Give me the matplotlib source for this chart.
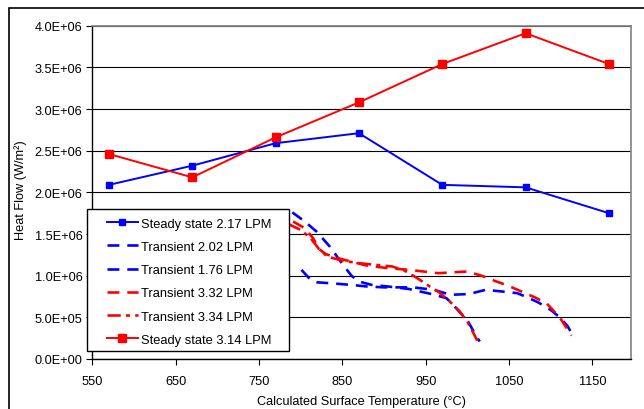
import numpy as np
import matplotlib
matplotlib.use("Agg")
import matplotlib.pyplot as plt
from matplotlib.patches import Rectangle
from matplotlib.ticker import FuncFormatter

plt.rcParams['font.family'] = ['Liberation Sans', 'DejaVu Sans']

# steady state runs (surface temperature, heat flow)
steady_t = [570, 670, 770, 870, 970, 1070, 1170]
steady_217 = [2.09e6, 2.32e6, 2.59e6, 2.71e6, 2.09e6, 2.06e6, 1.75e6]
steady_314 = [2.46e6, 2.18e6, 2.66e6, 3.08e6, 3.54e6, 3.91e6, 3.54e6]

# transient runs
t_202 = [790, 805, 819, 835, 848, 861, 870, 885, 905, 930, 957, 975, 983, 994, 1001, 1011, 1015]
q_202 = [1.76e6, 1.65e6, 1.53e6, 1.35e6, 1.17e6, 1.0e6, 0.93e6, 0.89e6, 0.87e6, 0.84e6,
         0.78e6, 0.73e6, 0.65e6, 0.53e6, 0.45e6, 0.27e6, 0.21e6]

t_176 = [801, 812, 820, 835, 860, 880, 900, 935, 960, 980, 1002, 1022, 1042, 1060, 1072,
         1085, 1100, 1111, 1120, 1127]
q_176 = [1.07e6, 0.95e6, 0.92e6, 0.91e6, 0.89e6, 0.87e6, 0.86e6, 0.86e6, 0.83e6, 0.77e6,
         0.78e6, 0.83e6, 0.81e6, 0.79e6, 0.74e6, 0.68e6, 0.59e6, 0.50e6, 0.40e6, 0.28e6]

t_332 = [791, 805, 815, 822, 830, 845, 860, 880, 905, 930, 965, 1000, 1017, 1035, 1049,
         1065, 1081, 1095, 1111, 1125]
q_332 = [1.65e6, 1.57e6, 1.45e6, 1.32e6, 1.26e6, 1.21e6, 1.17e6, 1.12e6, 1.09e6, 1.07e6,
         1.03e6, 1.05e6, 1.0e6, 0.93e6, 0.88e6, 0.81e6, 0.74e6, 0.67e6, 0.50e6, 0.28e6]

t_334 = [785, 800, 812, 822, 832, 850, 870, 890, 910, 925, 940, 955, 965, 978, 990, 1000,
         1008, 1012]
q_334 = [1.62e6, 1.55e6, 1.45e6, 1.32e6, 1.23e6, 1.18e6, 1.15e6, 1.13e6, 1.11e6, 1.06e6,
         0.97e6, 0.87e6, 0.81e6, 0.70e6, 0.58e6, 0.45e6, 0.30e6, 0.22e6]

W, H = 644, 410
fig = plt.figure(figsize=(W / 100, H / 100), dpi=100)
x0, x1, y0, y1 = 92.3, 631, 26.7, 360
ax = fig.add_axes([x0 / W, 1 - y1 / H, (x1 - x0) / W, (y1 - y0) / H])

blue = '#0000FF'
red = '#FF0000'

h1, = ax.plot(steady_t, steady_217, color=blue, lw=1.4, marker='s', ms=4.2,
              label='Steady state 2.17 LPM', zorder=4)
h2, = ax.plot(t_202, q_202, color=blue, lw=1.9, dashes=(4.5, 3), label='Transient 2.02 LPM', zorder=3)
h3, = ax.plot(t_176, q_176, color=blue, lw=1.9, dashes=(4.5, 3), label='Transient 1.76 LPM', zorder=3)
h4, = ax.plot(t_332, q_332, color=red, lw=1.9, dashes=(4.5, 3), label='Transient 3.32 LPM', zorder=3)
h5, = ax.plot(t_334, q_334, color=red, lw=1.9, dashes=(5, 2, 1.5, 2), label='Transient 3.34 LPM', zorder=3)
h6, = ax.plot(steady_t, steady_314, color=red, lw=1.4, marker='s', ms=5.5,
              label='Steady state 3.14 LPM', zorder=4)

ax.set_xlim(550, 1196.5)
ax.set_ylim(0, 4.0e6)
ax.set_xticks(np.arange(550, 1151, 100))
ax.set_yticks(np.arange(0, 4.01e6, 0.5e6))
ax.yaxis.set_major_formatter(FuncFormatter(lambda v, p: '{:.1E}'.format(v)))
ax.tick_params(axis='both', labelsize=9.2, direction='out', length=4.3, width=0.8, pad=2.8)
ax.tick_params(axis='x', pad=7)
ax.grid(axis='y', color='black', lw=0.8)
ax.set_axisbelow(True)
for s in ['left', 'bottom']:
    ax.spines[s].set_color('black')
    ax.spines[s].set_linewidth(1.0)
for s in ['top', 'right']:
    ax.spines[s].set_color('#808080')
    ax.spines[s].set_linewidth(1.2)

ax.set_xlabel('Calculated Surface Temperature (°C)', fontsize=9.2, labelpad=6)
fig.text(21 / W, 1 - 190 / H, 'Heat Flow (W/m²)', rotation=90, fontsize=9.2,
         ha='center', va='center')

# legend box, drawn over the axes
fig.add_artist(Rectangle((86.7 / W, 1 - 351.7 / H), (289.3 - 86.7) / W, (351.7 - 210) / H,
                         transform=fig.transFigure, facecolor='white', edgecolor='black',
                         lw=1.0, zorder=5))
fig.legend(handles=[h1, h2, h3, h4, h5, h6], loc='upper left',
           bbox_to_anchor=(106.7 / W, 1 - 218.5 / H), frameon=False, fontsize=9.3,
           handlelength=2.4, handletextpad=0.25, labelspacing=0.87, borderpad=0,
           borderaxespad=0).set_zorder(6)

# outer frame
fig.add_artist(Rectangle((9.3 / W, -0.1), 2, (H - 9.3) / H + 0.1, transform=fig.transFigure,
                         fill=False, edgecolor='black', lw=1.2, zorder=7))

fig.savefig('out.png', dpi=100)
